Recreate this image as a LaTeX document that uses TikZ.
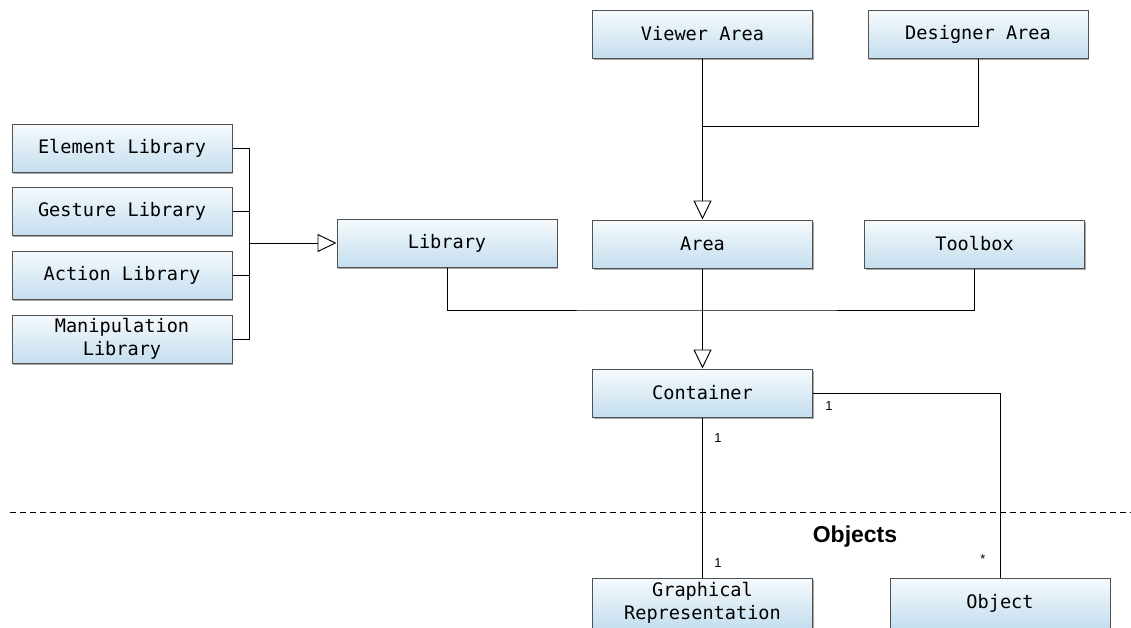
\documentclass[tikz,border=0pt]{standalone}
\usepackage{fontspec}
\setmonofont{DejaVu Sans Mono}
\newfontfamily\labelfont{Liberation Sans}
\usetikzlibrary{arrows.meta,shadows}
\definecolor{boxtop}{HTML}{F6FAFD}
\definecolor{boxbottom}{HTML}{C4DEEE}
\definecolor{boxline}{HTML}{505050}
\tikzset{
  classbox/.style={draw=boxline, line width=1pt, shading=axis, top color=boxtop,
    bottom color=boxbottom, minimum width=220pt, minimum height=48pt, inner sep=0pt,
    align=center, font=\ttfamily\fontsize{18.6}{23}\selectfont,
    drop shadow={shadow xshift=1pt, shadow yshift=-1.5pt, opacity=0.35, fill=black}},
  link/.style={draw=black, line width=0.95pt},
  gen/.style={link, -{Triangle[open, length=19pt, width=18pt, line width=0.95pt]}},
  mult/.style={font=\labelfont\fontsize{13}{15}\selectfont, inner sep=0pt}
}
\begin{document}
\begin{tikzpicture}[x=1pt, y=-1pt]
\useasboundingbox (0,0) rectangle (1131,627);
\clip (0,0) rectangle (1131,627);
\fill[white] (0,0) rectangle (1131,627);

% areas
\node[classbox] (viewer) at (702.5,34) {Viewer Area};
\node[classbox] (designer) at (978,34) {Designer Area};
\node[classbox] (area) at (702.5,244) {Area};
\node[classbox] (library) at (447,243) {Library};
\node[classbox] (toolbox) at (974.5,244) {Toolbox};

% libraries
\node[classbox] (element) at (122,148) {Element Library};
\node[classbox] (gesture) at (122,211) {Gesture Library};
\node[classbox] (action) at (122,275) {Action Library};
\node[classbox] (manip) at (122,339) {Manipulation\\Library};

% container and objects
\node[classbox] (container) at (702.5,393) {Container};
\node[classbox, minimum height=50pt] (graphical) at (702.5,603) {Graphical\\Representation};
\node[classbox, minimum height=50pt] (object) at (1000,603) {Object};

% generalisation: viewer / designer -> area
\coordinate (vjoin) at (702.5,126);
\draw[gen] (viewer.south) -- (area.north);
\draw[link] (designer.south) |- (vjoin);

% generalisation: libraries -> library
\coordinate (bus) at (249,0);
\draw[link] (element.east) -- (element.east -| bus) -- (manip.east -| bus) -- (manip.east);
\draw[link] (gesture.east) -- (gesture.east -| bus);
\draw[link] (action.east) -- (action.east -| bus);
\draw[gen] (library.west -| bus) -- (library.west);

% generalisation: library / area / toolbox -> container
\coordinate (cjoin) at (702.5,310);
\draw[link] (library.south) |- (cjoin) -| (toolbox.south);
\draw[gen] (area.south) -- (container.north);

% associations
\draw[link] (container.south) -- (graphical.north);
\draw[link] (container.east) -| (object.north);
\node[mult] (m1) at (718,438) {1};
\node[mult] (m2) at (718,563) {1};
\node[mult] (m3) at (829,406) {1};
\node[mult] (m4) at (983,559) {*};

% package boundary
\coordinate (dashL) at (10,512);
\coordinate (dashR) at (1131,512);
\draw[line width=0.9pt, dash pattern=on 6pt off 4pt] (dashL) -- (dashR);
\node[font=\labelfont\bfseries\fontsize{23}{26}\selectfont] (objects) at (855,537) {Objects};
\end{tikzpicture}
\end{document}
